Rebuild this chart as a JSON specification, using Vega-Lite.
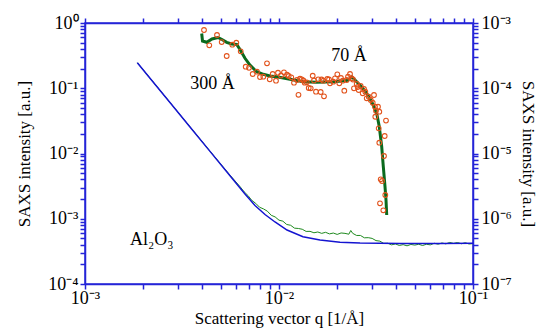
{
  "$schema": "https://vega.github.io/schema/vega-lite/v6.json",
  "width": 388,
  "height": 261,
  "autosize": "none",
  "padding": {"left": 85, "top": 23, "right": 65, "bottom": 46},
  "config": {
    "font": "Liberation Serif",
    "view": {"stroke": "#2424d8", "strokeWidth": 1.5},
    "axis": {
      "grid": false,
      "domainColor": "#2424d8",
      "domainWidth": 1.5,
      "ticks": true,
      "tickSize": 5,
      "tickColor": "#2424d8",
      "tickWidth": 1.5,
      "labelFont": "Liberation Serif",
      "labelFontSize": 18,
      "labelColor": "#000000",
      "titleFont": "Liberation Serif",
      "titleFontSize": 17,
      "titleFontWeight": "normal",
      "titleColor": "#000000",
      "labelOverlap": false,
      "labelFlush": false
    }
  },
  "datasets": {
    "blue": [
      {"q": 0.001861, "I": 0.2464}, {"q": 0.002163, "I": 0.1426}, {"q": 0.002741, "I": 0.06027},
      {"q": 0.003477, "I": 0.02548}, {"q": 0.004409, "I": 0.01077}, {"q": 0.00559, "I": 0.004551},
      {"q": 0.006679, "I": 0.002394}, {"q": 0.007522, "I": 0.001596}, {"q": 0.00847, "I": 0.001162},
      {"q": 0.009537, "I": 0.000892}, {"q": 0.011, "I": 0.000672}, {"q": 0.01329, "I": 0.000531},
      {"q": 0.01627, "I": 0.000472}, {"q": 0.02063, "I": 0.000437}, {"q": 0.02616, "I": 0.000425},
      {"q": 0.04205, "I": 0.000418}, {"q": 0.0676, "I": 0.000418}, {"q": 0.1, "I": 0.000422}
    ],
    "green": [
      {"q": 0.001861, "I": 0.2464}, {"q": 0.002163, "I": 0.1432}, {"q": 0.002741, "I": 0.0606},
      {"q": 0.003477, "I": 0.0257}, {"q": 0.004409, "I": 0.01088}, {"q": 0.00559, "I": 0.00465},
      {"q": 0.00631, "I": 0.003083}, {"q": 0.006607, "I": 0.002594}, {"q": 0.006918, "I": 0.00227},
      {"q": 0.007244, "I": 0.00191}, {"q": 0.007586, "I": 0.001722}, {"q": 0.007943, "I": 0.0015},
      {"q": 0.008318, "I": 0.001416}, {"q": 0.00871, "I": 0.001306}, {"q": 0.00912, "I": 0.00113},
      {"q": 0.00955, "I": 0.001067}, {"q": 0.01, "I": 0.0009506}, {"q": 0.01047, "I": 0.0009183},
      {"q": 0.01096, "I": 0.0008166}, {"q": 0.01148, "I": 0.0007943}, {"q": 0.01202, "I": 0.0007178},
      {"q": 0.01259, "I": 0.0007096}, {"q": 0.01318, "I": 0.0006902}, {"q": 0.0138, "I": 0.0006397},
      {"q": 0.01445, "I": 0.0006412}, {"q": 0.01514, "I": 0.0006095}, {"q": 0.01585, "I": 0.0006266},
      {"q": 0.0166, "I": 0.000597}, {"q": 0.01738, "I": 0.0006194}, {"q": 0.0182, "I": 0.0005861},
      {"q": 0.01905, "I": 0.0006039}, {"q": 0.01995, "I": 0.0005754}, {"q": 0.02089, "I": 0.0006053},
      {"q": 0.02188, "I": 0.000597}, {"q": 0.02291, "I": 0.0005794}, {"q": 0.02344, "I": 0.0006607},
      {"q": 0.02399, "I": 0.000597}, {"q": 0.02512, "I": 0.0005546}, {"q": 0.0263, "I": 0.0005546},
      {"q": 0.02754, "I": 0.0005105}, {"q": 0.02884, "I": 0.0005129}, {"q": 0.0302, "I": 0.0005},
      {"q": 0.03162, "I": 0.0004624}, {"q": 0.03311, "I": 0.0004539}, {"q": 0.03467, "I": 0.0004188},
      {"q": 0.03631, "I": 0.0004217}, {"q": 0.03802, "I": 0.0003981}, {"q": 0.03981, "I": 0.0004111},
      {"q": 0.04169, "I": 0.0003899}, {"q": 0.04365, "I": 0.0004009}, {"q": 0.04571, "I": 0.0003846},
      {"q": 0.04786, "I": 0.0004036}, {"q": 0.05012, "I": 0.0003945}, {"q": 0.05248, "I": 0.0004064},
      {"q": 0.05495, "I": 0.000389}, {"q": 0.05754, "I": 0.0004064}, {"q": 0.06026, "I": 0.0003981},
      {"q": 0.0631, "I": 0.0004207}, {"q": 0.06607, "I": 0.0004074}, {"q": 0.06918, "I": 0.0004256},
      {"q": 0.07244, "I": 0.0004121}, {"q": 0.07586, "I": 0.0004335}, {"q": 0.07943, "I": 0.0004188},
      {"q": 0.08318, "I": 0.0004325}, {"q": 0.0871, "I": 0.000414}, {"q": 0.0912, "I": 0.0004285},
      {"q": 0.0955, "I": 0.0004102}, {"q": 0.1, "I": 0.0004159}
    ],
    "fit": [
      {"q": 0.003995, "I": 6.9e-4}, {"q": 0.004034, "I": 5.3e-4}, {"q": 0.00424, "I": 5.06e-4},
      {"q": 0.004514, "I": 5.69e-4}, {"q": 0.004849, "I": 5.99e-4}, {"q": 0.005084, "I": 5.59e-4},
      {"q": 0.005375, "I": 5.06e-4}, {"q": 0.005704, "I": 4.77e-4}, {"q": 0.006053, "I": 4.68e-4},
      {"q": 0.006295, "I": 3.93e-4}, {"q": 0.006679, "I": 2.88e-4}, {"q": 0.007087, "I": 2.27e-4},
      {"q": 0.007675, "I": 1.793e-4}, {"q": 0.0083, "I": 1.636e-4}, {"q": 0.008986, "I": 1.541e-4},
      {"q": 0.00973, "I": 1.503e-4}, {"q": 0.01139, "I": 1.372e-4}, {"q": 0.01335, "I": 1.26e-4},
      {"q": 0.01564, "I": 1.234e-4}, {"q": 0.01905, "I": 1.26e-4}, {"q": 0.02234, "I": 1.315e-4},
      {"q": 0.02323, "I": 1.411e-4}, {"q": 0.02378, "I": 1.487e-4}, {"q": 0.02515, "I": 1.26e-4},
      {"q": 0.02669, "I": 1.045e-4}, {"q": 0.02832, "I": 8.37e-5}, {"q": 0.03005, "I": 6.22e-5},
      {"q": 0.03188, "I": 4.13e-5}, {"q": 0.03289, "I": 2.57e-5}, {"q": 0.03384, "I": 1.27e-5},
      {"q": 0.03449, "I": 6.28e-6}, {"q": 0.03519, "I": 3.1e-6}, {"q": 0.03561, "I": 1.94e-6},
      {"q": 0.03591, "I": 1.14e-6}
    ],
    "pts": [
      {"q": 0.004106, "I": 7.81e-4}, {"q": 0.004372, "I": 4.55e-4}, {"q": 0.004791, "I": 6.55e-4},
      {"q": 0.005065, "I": 5.11e-4}, {"q": 0.005375, "I": 3.12e-4}, {"q": 0.005745, "I": 4.65e-4},
      {"q": 0.006025, "I": 4.99e-4}, {"q": 0.006347, "I": 3.68e-4}, {"q": 0.006735, "I": 2.14e-4},
      {"q": 0.007004, "I": 2.06e-4}, {"q": 0.007318, "I": 1.654e-4}, {"q": 0.007701, "I": 1.793e-4},
      {"q": 0.007981, "I": 1.487e-4}, {"q": 0.0083, "I": 1.503e-4}, {"q": 0.008672, "I": 2.41e-4},
      {"q": 0.008957, "I": 1.372e-4}, {"q": 0.00928, "I": 1.654e-4}, {"q": 0.00965, "I": 1.305e-4},
      {"q": 0.009881, "I": 1.731e-4}, {"q": 0.01024, "I": 1.568e-4}, {"q": 0.01061, "I": 1.756e-4},
      {"q": 0.011, "I": 1.613e-4}, {"q": 0.01122, "I": 1.541e-4}, {"q": 0.01157, "I": 1.471e-4},
      {"q": 0.01195, "I": 1.216e-4}, {"q": 0.01238, "I": 1.338e-4}, {"q": 0.0126, "I": 7.93e-5},
      {"q": 0.01283, "I": 1.401e-4}, {"q": 0.01309, "I": 1.372e-4}, {"q": 0.01335, "I": 1.315e-4},
      {"q": 0.01357, "I": 1.216e-4}, {"q": 0.0139, "I": 1.234e-4}, {"q": 0.01423, "I": 1.009e-4},
      {"q": 0.01457, "I": 9.98e-5}, {"q": 0.01492, "I": 1.557e-4}, {"q": 0.01515, "I": 1.315e-4},
      {"q": 0.01551, "I": 8.86e-5}, {"q": 0.01594, "I": 1.372e-4}, {"q": 0.0164, "I": 8.76e-5},
      {"q": 0.01656, "I": 1.362e-4}, {"q": 0.01692, "I": 1.305e-4}, {"q": 0.01706, "I": 7.52e-5},
      {"q": 0.01774, "I": 1.386e-4}, {"q": 0.0181, "I": 1.362e-4}, {"q": 0.01832, "I": 1.191e-4},
      {"q": 0.01905, "I": 1.26e-4}, {"q": 0.01944, "I": 1.421e-4}, {"q": 0.01998, "I": 1.636e-4},
      {"q": 0.02046, "I": 1.191e-4}, {"q": 0.02087, "I": 1.436e-4}, {"q": 0.0213, "I": 1.305e-4},
      {"q": 0.02171, "I": 9.17e-5}, {"q": 0.02234, "I": 1.338e-4}, {"q": 0.02269, "I": 1.503e-4},
      {"q": 0.02323, "I": 1.654e-4}, {"q": 0.0237, "I": 1.421e-4}, {"q": 0.02406, "I": 1.362e-4},
      {"q": 0.02435, "I": 9.98e-5}, {"q": 0.02515, "I": 1.162e-4}, {"q": 0.02545, "I": 1.045e-4},
      {"q": 0.02575, "I": 9.4e-5}, {"q": 0.02637, "I": 1.083e-4}, {"q": 0.027, "I": 8.37e-5},
      {"q": 0.02743, "I": 9.74e-5}, {"q": 0.02785, "I": 8.86e-5}, {"q": 0.02832, "I": 7.02e-5},
      {"q": 0.029, "I": 7.42e-5}, {"q": 0.0297, "I": 6.61e-5}, {"q": 0.03041, "I": 6.01e-5},
      {"q": 0.03088, "I": 7.88e-5}, {"q": 0.03125, "I": 5.22e-5}, {"q": 0.03136, "I": 3.66e-5},
      {"q": 0.03162, "I": 4.53e-5}, {"q": 0.03238, "I": 5.22e-5}, {"q": 0.03265, "I": 2.43e-5},
      {"q": 0.03289, "I": 4.37e-5}, {"q": 0.03289, "I": 1.464e-5}, {"q": 0.03316, "I": 1.725e-6},
      {"q": 0.03344, "I": 4.024e-6}, {"q": 0.03396, "I": 3.789e-6}, {"q": 0.03449, "I": 1.348e-6},
      {"q": 0.03477, "I": 9.16e-6}, {"q": 0.03506, "I": 1.854e-5}, {"q": 0.03531, "I": 2.312e-6},
      {"q": 0.03561, "I": 3.2e-5}
    ],
    "labels": [
      {"q": 0.004541, "I": 0.0974, "t": "300 Å", "a": "center"},
      {"q": 0.02295, "I": 0.2616, "t": "70 Å", "a": "center"},
      {"q": 0.002207, "I": 0.000396, "t": "Al₂O₃", "a": "left"}
    ]
  },
  "layer": [
    {
      "layer": [
        {
          "data": {"name": "green"},
          "mark": {"type": "line", "color": "#1f8a1f", "strokeWidth": 1},
          "encoding": {
            "x": {
              "field": "q", "type": "quantitative",
              "scale": {"type": "log", "domain": [0.001, 0.1], "nice": false},
              "axis": {
                "orient": "bottom",
                "title": "Scattering vector q [1/Å]",
                "values": [0.001, 0.002, 0.003, 0.004, 0.005, 0.006, 0.007, 0.008, 0.009, 0.01, 0.02, 0.03, 0.04, 0.05, 0.06, 0.07, 0.08, 0.09, 0.1],
                "labelExpr": "datum.value==0.001?'10⁻³':datum.value==0.01?'10⁻²':datum.value==0.1?'10⁻¹':''",
                "labelPadding": 0,
                "titlePadding": 3
              }
            },
            "y": {
              "field": "I", "type": "quantitative",
              "scale": {"type": "log", "domain": [0.0001, 1], "nice": false},
              "axis": {
                "orient": "left",
                "title": "SAXS intensity [a.u.]",
                "values": [0.0001, 0.0002, 0.0003, 0.0004, 0.0005, 0.0006, 0.0007, 0.0008, 0.0009, 0.001, 0.002, 0.003, 0.004, 0.005, 0.006, 0.007, 0.008, 0.009, 0.01, 0.02, 0.03, 0.04, 0.05, 0.06, 0.07, 0.08, 0.09, 0.1, 0.2, 0.3, 0.4, 0.5, 0.6, 0.7, 0.8, 0.9, 1],
                "labelExpr": "datum.value==1?'10⁰':datum.value==0.1?'10⁻¹':datum.value==0.01?'10⁻²':datum.value==0.001?'10⁻³':datum.value==0.0001?'10⁻⁴':''",
                "labelPadding": 2,
                "titlePadding": 14
              }
            }
          }
        },
        {
          "data": {"name": "blue"},
          "mark": {"type": "line", "color": "#1414d0", "strokeWidth": 1.5},
          "encoding": {
            "x": {"field": "q", "type": "quantitative"},
            "y": {"field": "I", "type": "quantitative"}
          }
        },
        {
          "data": {"name": "labels"},
          "mark": {"type": "text", "font": "Liberation Serif", "fontSize": 18, "baseline": "alphabetic", "color": "#000000"},
          "encoding": {
            "x": {"field": "q", "type": "quantitative"},
            "y": {"field": "I", "type": "quantitative"},
            "text": {"field": "t"},
            "align": {"field": "a", "type": "nominal", "scale": null}
          }
        }
      ]
    },
    {
      "layer": [
        {
          "data": {"name": "fit"},
          "mark": {"type": "line", "color": "#0b6a1e", "strokeWidth": 3},
          "encoding": {
            "x": {
              "field": "q", "type": "quantitative",
              "axis": {
                "orient": "top",
                "title": null,
                "labels": false,
                "values": [0.001, 0.002, 0.003, 0.004, 0.005, 0.006, 0.007, 0.008, 0.009, 0.01, 0.02, 0.03, 0.04, 0.05, 0.06, 0.07, 0.08, 0.09, 0.1]
              }
            },
            "y": {
              "field": "I", "type": "quantitative",
              "scale": {"type": "log", "domain": [1e-7, 0.001], "nice": false},
              "axis": {
                "orient": "right",
                "title": "SAXS intensity [a.u.]",
                "titleAngle": 90,
                "values": [1e-7, 2e-7, 3e-7, 4e-7, 5e-7, 6e-7, 7e-7, 8e-7, 9e-7, 1e-6, 2e-6, 3e-6, 4e-6, 5e-6, 6e-6, 7e-6, 8e-6, 9e-6, 1e-5, 2e-5, 3e-5, 4e-5, 5e-5, 6e-5, 7e-5, 8e-5, 9e-5, 0.0001, 0.0002, 0.0003, 0.0004, 0.0005, 0.0006, 0.0007, 0.0008, 0.0009, 0.001],
                "labelExpr": "datum.value==0.001?'10⁻³':datum.value==0.0001?'10⁻⁴':datum.value==0.00001?'10⁻⁵':datum.value==0.000001?'10⁻⁶':datum.value==0.0000001?'10⁻⁷':''",
                "labelPadding": 3,
                "titlePadding": 7
              }
            }
          }
        },
        {
          "data": {"name": "pts"},
          "mark": {"type": "point", "shape": "circle", "filled": false, "color": "#e2531c", "size": 22, "strokeWidth": 1.1, "opacity": 1},
          "encoding": {
            "x": {"field": "q", "type": "quantitative"},
            "y": {"field": "I", "type": "quantitative"}
          }
        }
      ]
    }
  ],
  "resolve": {"scale": {"y": "independent"}, "axis": {"x": "independent", "y": "independent"}}
}
